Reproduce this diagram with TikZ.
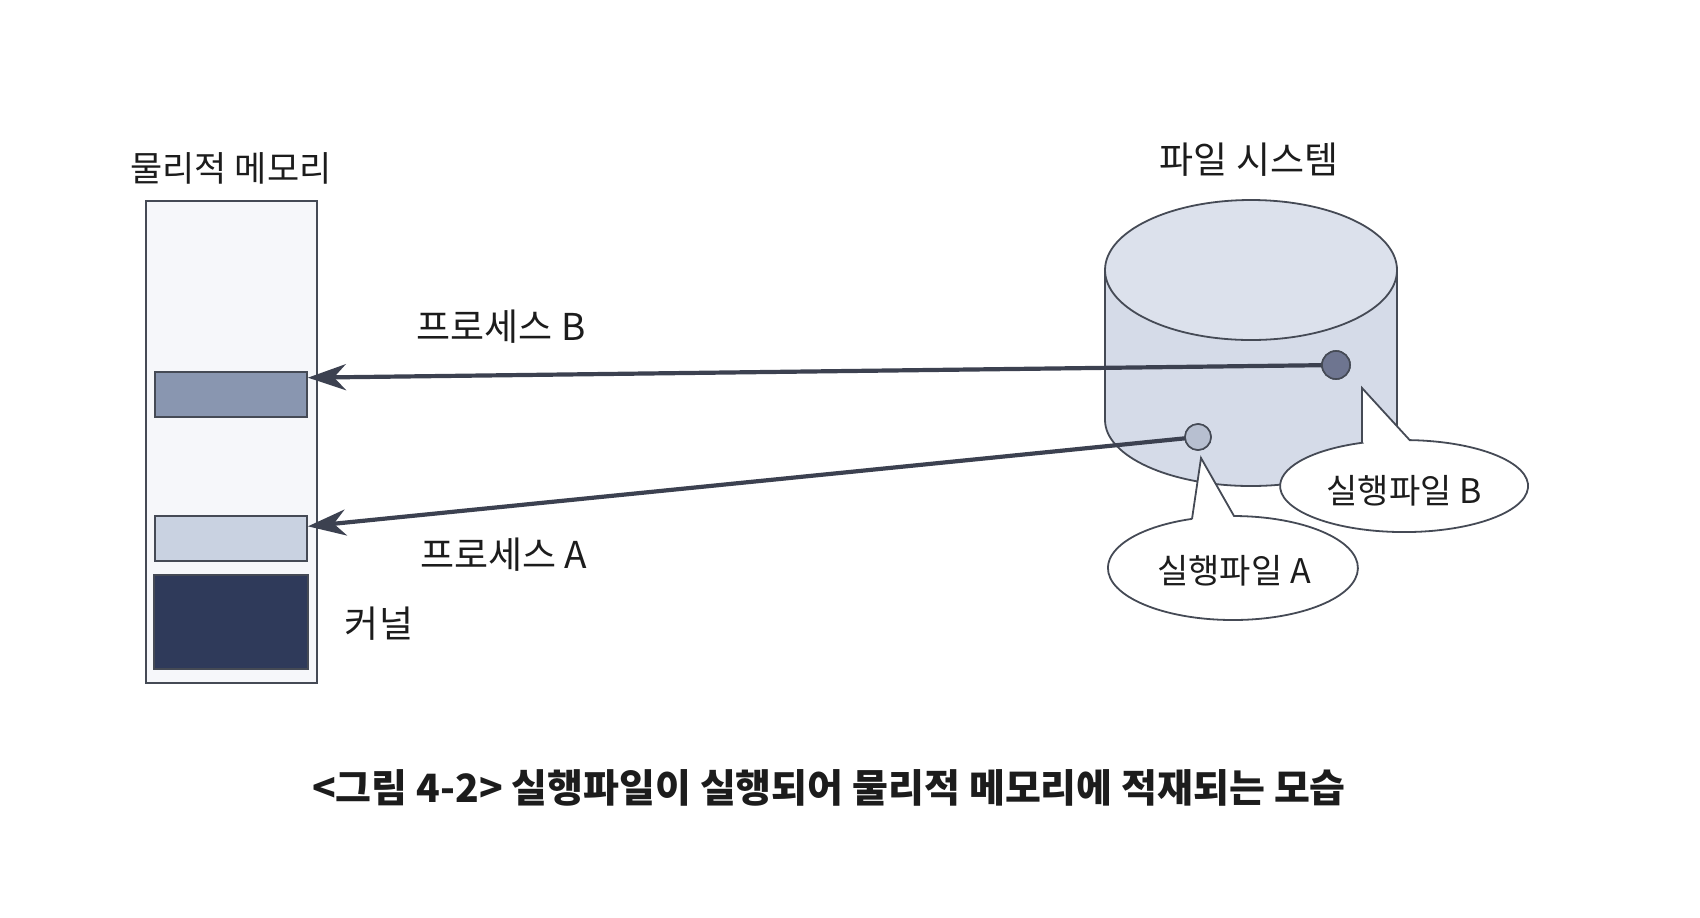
\documentclass[tikz,border=0pt]{standalone}
\usepackage{fontspec}
\newfontfamily\kr{Noto Sans CJK KR}
\usetikzlibrary{arrows.meta,calc}
\definecolor{inkc}{HTML}{1C1C1C}
\definecolor{edgec}{HTML}{454A55}
\definecolor{memfill}{HTML}{F6F7FA}
\definecolor{pbfill}{HTML}{8996B0}
\definecolor{pafill}{HTML}{C9D2E1}
\definecolor{kfill}{HTML}{2F3A5A}
\definecolor{cylfill}{HTML}{D5DBE8}
\definecolor{cyltop}{HTML}{DCE1EC}
\definecolor{dotb}{HTML}{6E7590}
\definecolor{dota}{HTML}{B7BFD0}
\definecolor{arrc}{HTML}{3C4150}
\begin{document}
\begin{tikzpicture}[x=0.5pt,y=-0.5pt,
  lbl/.style={font=\kr\fontsize{17}{20}\selectfont, text=inkc, inner sep=0},
  biglbl/.style={lbl, font=\kr\fontsize{18.5}{22}\selectfont},
  blk/.style={draw=edgec, line width=0.9pt, inner sep=0, minimum width=76pt, minimum height=22.5pt},
  cylline/.style={draw=edgec, line width=0.9pt},
  callout/.style={fill=white, draw=edgec, line width=0.9pt, line join=miter},
  arr/.style={draw=arrc, line width=2.1pt, -{Stealth[length=19pt,width=13pt,inset=6pt]}},
  dotn/.style={circle, draw=edgec, line width=0.8pt, inner sep=0}]
\useasboundingbox (0,0) rectangle (1700,917);
% physical memory
\node[lbl, font=\kr\fontsize{17.5}{20}\selectfont] (memtitle) at (231,168) {물리적 메모리};
\node[draw=edgec, fill=memfill, line width=1pt, inner sep=0, minimum width=85.5pt, minimum height=241pt] (mem) at (231.5,442) {};
\node[blk, fill=pbfill] (procB) at (231,394.5) {};
\node[blk, fill=pafill] (procA) at (231,538.5) {};
\node[blk, fill=kfill, minimum width=77pt, minimum height=47pt] (kernel) at (231,622) {};
\node[biglbl] (kernellbl) at (379,624) {커널};
% file system cylinder
\fill[cylfill] (1105,270) -- (1105,420) arc[start angle=180, end angle=60, x radius=146, y radius=66]
  -- (1397,426) -- (1397,270) arc[start angle=0, end angle=-180, x radius=146, y radius=70] -- cycle;
\fill[cyltop] (1251,270) ellipse [x radius=146, y radius=70];
\draw[cylline] (1251,270) ellipse [x radius=146, y radius=70];
\draw[cylline] (1105,270) -- (1105,420) arc[start angle=180, end angle=60, x radius=146, y radius=66];
\draw[cylline] (1397,270) -- (1397,426.5);
\node[biglbl] (fstitle) at (1249,160) {파일 시스템};
% dots
\node[dotn, fill=dotb, minimum size=14pt] (dotB) at (1336,365) {};
\node[dotn, fill=dota, minimum size=13pt] (dotA) at (1198,437) {};
% arrows
\coordinate (tipB) at ($(procB.north east)!0.14!(procB.south east)$);
\coordinate (tipA) at ($(procA.north east)!0.24!(procA.south east)$);
\draw[arr] (dotB.center) -- (tipB);
\draw[arr] (dotA.center) -- (tipA);
\node[dotn, fill=dotb, minimum size=14pt] at (dotB) {};
\node[dotn, fill=dota, minimum size=13pt] at (dotA) {};
\node[biglbl] (labB) at (501,327) {프로세스 B};
\node[biglbl] (labA) at (504,555) {프로세스 A};
% callouts
\path[callout] (1362,442.7) -- (1362,388) -- (1409.7,440.1)
  arc[start angle=-87.4, end angle=250.2, x radius=124, y radius=46] -- cycle;
\path[callout] (1192,518.9) -- (1201,458) -- (1234,516)
  arc[start angle=-89.5, end angle=250.9, x radius=125, y radius=52] -- cycle;
\node[lbl] (calB) at (1404,491) {실행파일 B};
\node[lbl] (calA) at (1234,571) {실행파일 A};
% caption
\node[font=\kr\bfseries\fontsize{19.5}{23}\selectfont, text=inkc, inner sep=0] (caption) at (829,788)
  {<그림 4-2> 실행파일이 실행되어 물리적 메모리에 적재되는 모습};
\end{tikzpicture}
\end{document}
